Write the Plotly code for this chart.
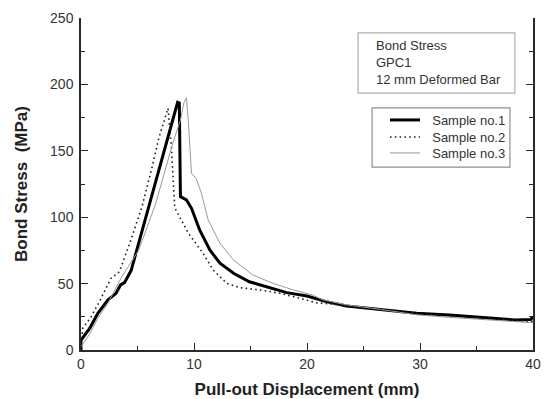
import plotly.graph_objects as go

# Sample no.1 (thick black)
s1_x = [0, 0, 0.75, 1.49, 2.37, 3.1, 3.5, 3.85, 4.44, 5.18, 6.0, 6.9, 7.6, 8.2, 8.55, 8.7,
        8.76, 8.8, 9.33, 9.78, 10.5, 11.4, 12.3, 13.5, 14.9, 16.4, 18.2, 20, 21.7, 23.5,
        24.7, 26.7, 29.7, 32.6, 35.6, 38.5, 39.8, 40]
s1_y = [0, 7.5, 16, 27.6, 37.6, 42.7, 49, 50.7, 60, 82.8, 107, 134, 156, 176, 186.5, 186,
        150, 115.5, 113, 106.7, 90.4, 75.3, 65.3, 57.8, 51.4, 47.7, 43.2, 40.7, 36.4, 33.1,
        32, 30.6, 27.6, 26.4, 24.6, 22.6, 23, 25]

# Sample no.2 (dotted)
s2_x = [0, 0.16, 0.9, 1.6, 2.66, 3.4, 4.3, 5.4, 6.3, 6.9, 7.7, 8.0, 8.16, 8.3, 8.74, 9.5,
        10.8, 11.7, 12.9, 14.1, 15.8, 17.6, 19.4, 20.8, 22.3, 25, 29.7, 34.3, 40]
s2_y = [5, 16.5, 25, 36, 54, 59, 80, 108, 138, 160, 182, 153, 128, 107, 100, 88,
        72.8, 60.2, 50.2, 46.9, 45.2, 42.7, 38.9, 35.6, 34.6, 31.5, 27.5, 24.5, 21.5]

# Sample no.3 (thin grey)
s3_x = [0, 0.8, 1.49, 2.37, 3.6, 5.1, 6.6, 8.2, 8.8, 9.1, 9.33, 9.5, 9.78, 10.2, 10.66,
        11.1, 11.25, 12.3, 13.5, 15.2, 17, 18.8, 20.5, 21.4, 23.5, 26.6, 29.7, 32.6, 35.6,
        38.5, 40]
s3_y = [2.5, 12.5, 24, 35, 55, 75, 110, 158, 173, 186, 190, 172, 133, 129, 118,
        103, 98, 80.3, 67.8, 56.5, 50.2, 45.2, 41.4, 37.7, 34, 30.5, 26.5, 24.6, 23,
        21.3, 20.5]

series_names = ["Sample no.1", "Sample no.2", "Sample no.3"]
info_lines = ["Bond Stress", "GPC1", "12 mm Deformed Bar"]

FONT = "Liberation Sans, Arial, sans-serif"
AXC = "#2a2a2a"

fig = go.Figure()
fig.add_trace(go.Scatter(x=s1_x, y=s1_y, mode="lines", name="\u00a0\u00a0" + series_names[0],
                         legend="legend", showlegend=True, line=dict(color="black", width=3)))
fig.add_trace(go.Scatter(x=s2_x, y=s2_y, mode="lines", name="\u00a0\u00a0" + series_names[1],
                         legend="legend2", showlegend=True,
                         line=dict(color="#222222", width=1.6, dash="1.6px,3.2px")))
fig.add_trace(go.Scatter(x=s3_x, y=s3_y, mode="lines", name="\u00a0\u00a0" + series_names[2],
                         legend="legend3", showlegend=True, line=dict(color="#9a9a9a", width=1)))

tickfont = dict(family=FONT, size=14, color="#333333")
titlefont = dict(family=FONT, size=17, color="#222222", weight="bold")

fig.update_layout(
    width=544, height=399,
    margin=dict(l=81, r=11, t=18, b=49),
    showlegend=True,
    plot_bgcolor="white", paper_bgcolor="white",
    xaxis=dict(range=[0, 40], dtick=10, showgrid=False, zeroline=False, automargin=False,
               showline=True, linecolor=AXC, linewidth=1.5, mirror=False,
               ticks="inside", ticklen=7, tickwidth=1.3, tickcolor=AXC, tickfont=tickfont,
               minor=dict(dtick=5, ticks="inside", ticklen=4, tickwidth=1.2, tickcolor=AXC),
               title=dict(text="Pull-out Displacement (mm)", standoff=14, font=titlefont)),
    xaxis2=dict(range=[0, 40], dtick=8, overlaying="x", side="top", anchor="y", automargin=False,
                showgrid=False, zeroline=False, showline=True, linecolor=AXC, linewidth=1.5,
                ticks="inside", ticklen=6, tickwidth=1.3, tickcolor=AXC, showticklabels=False,
                minor=dict(dtick=4, ticks="inside", ticklen=3, tickwidth=1.2, tickcolor=AXC)),
    yaxis=dict(range=[0, 250], dtick=50, showgrid=False, zeroline=False, automargin=False,
               showline=True, linecolor=AXC, linewidth=1.5, mirror="ticks",
               ticks="inside", ticklen=7, tickwidth=1.3, tickcolor=AXC, tickfont=tickfont,
               ticklabelstandoff=3,
               minor=dict(dtick=25, ticks="inside", ticklen=4, tickwidth=1.2, tickcolor=AXC),
               title=dict(text="Bond Stress\u00a0\u00a0(MPa)", standoff=18, font=titlefont)),
)

# Info text box
fig.add_shape(type="rect", xref="paper", yref="paper", x0=0.613, x1=0.960, y0=0.774, y1=0.955,
              line=dict(color="#b0b0b0", width=1.2), fillcolor="white", layer="above")
fig.add_annotation(xref="paper", yref="paper", x=0.648, y=0.865, xanchor="left", yanchor="middle",
                   text="<br>".join(info_lines), showarrow=False, align="left",
                   font=dict(family=FONT, size=13, color="#333333"))

# Legend frame
fig.add_shape(type="rect", xref="paper", yref="paper", x0=0.644, x1=0.949, y0=0.551, y1=0.729,
              line=dict(color="#909090", width=1.2), layer="below")

leg_font = dict(family=FONT, size=13, color="#333333")
leg_x = (385 - 81) / 452
for key, py in (("legend", 120), ("legend2", 137), ("legend3", 153)):
    fig.update_layout({key: dict(x=leg_x, y=(350 - py) / 332, xanchor="left", yanchor="middle",
                                 bgcolor="rgba(0,0,0,0)", borderwidth=0, font=leg_font,
                                 itemwidth=30, visible=True)})

fig.write_html("out.html")
